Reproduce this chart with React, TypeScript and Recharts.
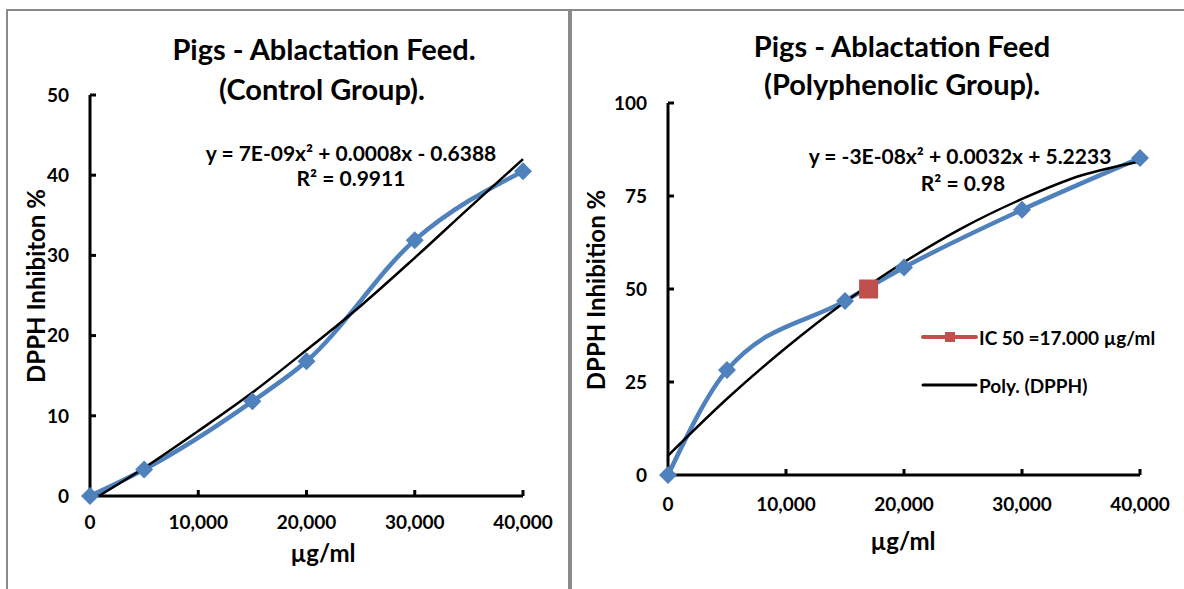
import React from 'react';
import { LineChart, Line, XAxis, YAxis } from 'recharts';

const xTicks = [0, 10000, 20000, 30000, 40000];

// control group
const controlX = [0, 5000, 15000, 20000, 30000, 40000];
const controlY = [0, 3.3, 11.8, 16.8, 31.9, 40.5];
const controlTrendX = [800, 5000, 10000, 15000, 20000, 25000, 30000, 35000, 40000];
const controlTrendY = [0, 3.5, 8.1, 12.9, 18.2, 23.7, 29.7, 35.9, 42.0];
const controlYTicks = [0, 10, 20, 30, 40, 50];

// polyphenolic group
const polyX = [0, 5000, 15000, 20000, 30000, 40000];
const polyY = [0, 28.2, 46.8, 55.8, 71.3, 85.2];
const polyTrendX = [0, 5000, 10000, 15000, 20000, 25000, 30000, 35000, 40000];
const polyTrendY = [5.2, 20.5, 34.2, 46.5, 57.2, 66.5, 74.2, 80.5, 84.3];
const ic50X = [17000];
const ic50Y = [50];
const polyYTicks = [0, 25, 50, 75, 100];

const toPts = (xs: number[], ys: number[]) => xs.map((x, i) => ({ x, y: ys[i] }));

const BLUE = '#4F81BD';
const RED = '#C0504D';
const FONT = 'Lato, "Open Sans", sans-serif';

const tickStyle = { fill: '#000', fontSize: 19, fontWeight: 700, fontFamily: FONT };

const renderDiamond = (p: any) => {
  const { cx, cy, index } = p;
  if (cx == null || cy == null) return <g key={`d-${index}`} />;
  const r = 9;
  return (
    <polygon
      key={`d-${index}`}
      points={`${cx},${cy - r} ${cx + r},${cy} ${cx},${cy + r} ${cx - r},${cy}`}
      fill={BLUE}
    />
  );
};

const renderSquare = (p: any) => {
  const { cx, cy, index } = p;
  if (cx == null || cy == null) return <g key={`s-${index}`} />;
  const r = 9.5;
  return <rect key={`s-${index}`} x={cx - r} y={cy - r} width={2 * r} height={2 * r} fill={RED} />;
};

const Txt: React.FC<{ x: number; y: number; size: number; children: React.ReactNode; rotate?: boolean }> = ({
  x, y, size, children, rotate,
}) => (
  <div
    style={{
      position: 'absolute',
      left: x,
      top: y,
      transform: `translate(-50%, -50%)${rotate ? ' rotate(-90deg)' : ''}`,
      fontSize: size,
      fontWeight: 700,
      fontFamily: FONT,
      whiteSpace: 'nowrap',
      lineHeight: 1,
      color: '#000',
    }}
  >
    {children}
  </div>
);

const fmt = (v: number) => v.toLocaleString('en-US');

interface PanelProps {
  left: number;
  width: number;
  plotLeft: number;
  plotRight: number;
  plotTop: number;
  plotBottom: number;
  yMax: number;
  yTicks: number[];
  xLabelGap: number;
  children: React.ReactNode;
}

const Panel: React.FC<PanelProps> = ({ left, width, plotLeft, plotRight, plotTop, plotBottom, yMax, yTicks, xLabelGap, children }) => (
  <div style={{ position: 'absolute', left, top: 0 }}>
    <LineChart
      width={width}
      height={589}
      margin={{ top: plotTop, right: width - plotRight, left: plotLeft - 60, bottom: 589 - plotBottom - 60 }}
    >
      <XAxis
        type="number"
        dataKey="x"
        domain={[0, 40000]}
        ticks={xTicks}
        tickFormatter={fmt}
        height={60}
        axisLine={{ stroke: '#000', strokeWidth: 3 }}
        tickLine={{ stroke: '#000', strokeWidth: 3 }}
        tickSize={-6}
        tickMargin={xLabelGap}
        tick={tickStyle}
      />
      <YAxis
        type="number"
        domain={[0, yMax]}
        ticks={yTicks}
        width={60}
        axisLine={{ stroke: '#000', strokeWidth: 3 }}
        tickLine={{ stroke: '#000', strokeWidth: 3 }}
        tickSize={-6}
        tickMargin={27}
        tick={tickStyle}
      />
      {children}
    </LineChart>
  </div>
);

export default function App() {
  const controlData = toPts(controlX, controlY);
  const controlTrend = toPts(controlTrendX, controlTrendY);
  const polyData = toPts(polyX, polyY);
  const polyTrend = toPts(polyTrendX, polyTrendY);
  const ic50Data = toPts(ic50X, ic50Y);

  return (
    <div
      style={{
        position: 'fixed',
        left: 0,
        top: 0,
        width: 1184,
        height: 589,
        background: '#fff',
        overflow: 'hidden',
        fontFamily: FONT,
      }}
    >
      {/* frame lines */}
      <div style={{ position: 'absolute', left: 6, top: 9, width: 1178, height: 2, background: '#8a8a8a' }} />
      <div style={{ position: 'absolute', left: 6, top: 9, width: 2, height: 580, background: '#8a8a8a' }} />
      <div style={{ position: 'absolute', left: 568, top: 9, width: 4, height: 580, background: '#8a8a8a' }} />

      <Panel left={0} width={568} plotLeft={90} plotRight={523} plotTop={95} plotBottom={496} yMax={50} yTicks={controlYTicks} xLabelGap={26}>
        <Line data={controlData} dataKey="y" type="monotone" stroke={BLUE} strokeWidth={4.5} dot={renderDiamond} isAnimationActive={false} />
        <Line data={controlTrend} dataKey="y" type="monotone" stroke="#000" strokeWidth={2.5} dot={false} isAnimationActive={false} />
      </Panel>

      <Panel left={572} width={612} plotLeft={96} plotRight={568} plotTop={103} plotBottom={475} yMax={100} yTicks={polyYTicks} xLabelGap={29}>
        <Line data={polyData} dataKey="y" type="monotone" stroke={BLUE} strokeWidth={4.5} dot={renderDiamond} isAnimationActive={false} />
        <Line data={ic50Data} dataKey="y" stroke={RED} strokeWidth={4} dot={renderSquare} isAnimationActive={false} />
        <Line data={polyTrend} dataKey="y" type="monotone" stroke="#000" strokeWidth={2.5} dot={false} isAnimationActive={false} />
      </Panel>

      {/* left texts */}
      <Txt x={324} y={48} size={29}>Pigs - Ablactation Feed.</Txt>
      <Txt x={322} y={88} size={29}>(Control Group).</Txt>
      <Txt x={351} y={152} size={21}>y = 7E-09x² + 0.0008x - 0.6388</Txt>
      <Txt x={351} y={177} size={21}>R² = 0.9911</Txt>
      <Txt x={36} y={286} size={24} rotate>DPPH Inhibiton %</Txt>
      <Txt x={323} y={553} size={24}>µg/ml</Txt>

      {/* right texts */}
      <Txt x={902} y={45} size={29}>Pigs - Ablactation Feed</Txt>
      <Txt x={902} y={83} size={29}>(Polyphenolic Group).</Txt>
      <Txt x={960} y={155} size={21}>y = -3E-08x² + 0.0032x + 5.2233</Txt>
      <Txt x={963} y={182} size={21}>R² = 0.98</Txt>
      <Txt x={596} y={290} size={24} rotate>DPPH Inhibition %</Txt>
      <Txt x={903} y={541} size={24}>µg/ml</Txt>

      {/* legend */}
      <div style={{ position: 'absolute', left: 920, top: 323, fontFamily: FONT, fontWeight: 700, fontSize: 19 }}>
        <div style={{ display: 'flex', alignItems: 'center', height: 28 }}>
          <svg width={59} height={20}>
            <line x1={3} y1={10} x2={56} y2={10} stroke={RED} strokeWidth={4} strokeLinecap="round" />
            <rect x={25} y={5} width={10} height={10} fill={RED} />
          </svg>
          <span>IC 50 =17.000 µg/ml</span>
        </div>
        <div style={{ display: 'flex', alignItems: 'center', height: 28, marginTop: 20 }}>
          <svg width={59} height={20}>
            <line x1={3} y1={10} x2={56} y2={10} stroke="#000" strokeWidth={3} strokeLinecap="round" />
          </svg>
          <span>Poly. (DPPH)</span>
        </div>
      </div>
    </div>
  );
}
